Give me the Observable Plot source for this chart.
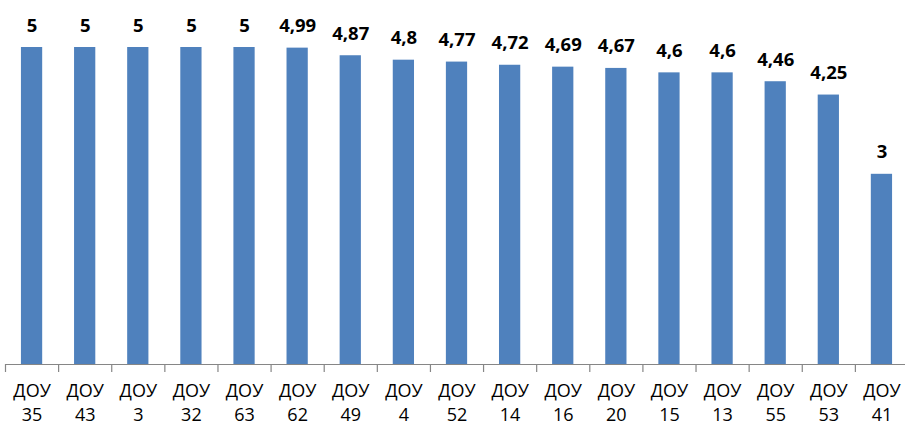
<!DOCTYPE html>
<html>
<head>
<meta charset="utf-8">
<script src="https://cdn.jsdelivr.net/npm/d3@7"></script>
<script src="https://cdn.jsdelivr.net/npm/@observablehq/plot@0.6"></script>
<style>
  html, body { margin: 0; padding: 0; background: #fff; }
  #chart svg { display: block; }
</style>
</head>
<body>
<div id="chart"></div>
<script>
const categories = ["35","43","3","32","63","62","49","4","52","14","16","20","15","13","55","53","41"];
const prefix = "ДОУ";
const values = [5,5,5,5,5,4.99,4.87,4.8,4.77,4.72,4.69,4.67,4.6,4.6,4.46,4.25,3];

const data = categories.map((c, i) => ({i, label: prefix + "\n" + c, value: values[i]}));
const fmt = v => String(v).replace(".", ",");

const chart = Plot.plot({
  width: 905,
  height: 428,
  marginLeft: 5,
  marginRight: 0,
  marginTop: 0,
  marginBottom: 64,
  style: {fontFamily: "'Open Sans', sans-serif", background: "#fff"},
  x: {type: "linear", domain: [0, categories.length], range: [5, 908]},
  y: {domain: [0, 5], range: [364, 47], axis: null},
  marks: [
    Plot.rectY(data, {x1: d => d.i + 0.3, x2: d => d.i + 0.7, y: "value", fill: "#4F81BD"}),
    Plot.ruleY([0], {stroke: "#868686", strokeWidth: 1.2}),
    Plot.axisX({ticks: d3.range(0, categories.length + 1), tickSize: 8, tickFormat: () => "", stroke: "#868686", strokeWidth: 1.2, strokeOpacity: 1}),
    Plot.text(data, {x: d => d.i + 0.5, y: 0, text: "label", lineAnchor: "top", dy: 16, lineHeight: 1.32, fontSize: 18, fill: "#000"}),
    Plot.text(data, {x: d => d.i + 0.5, y: "value", text: d => fmt(d.value), lineAnchor: "bottom", dy: -16, fontSize: 18.5, fontWeight: "bold", fill: "#000"})
  ]
});
document.getElementById("chart").appendChild(chart);
</script>
</body>
</html>
